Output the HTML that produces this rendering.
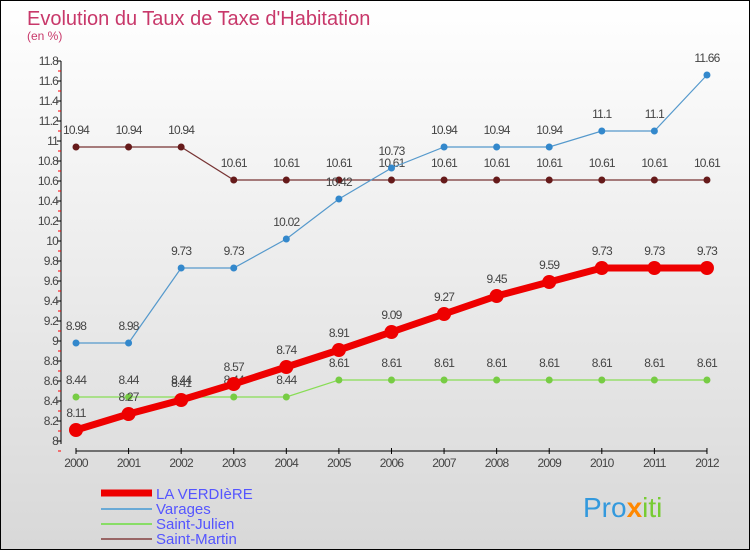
<!DOCTYPE html>
<html><head><meta charset="utf-8"><style>
body{margin:0}
#c{width:748px;height:548px;border:1px solid #000;background:linear-gradient(#fff,#d8d8d8);position:relative;font-family:"Liberation Sans",sans-serif;overflow:hidden}
</style></head><body>
<div id="c">
<svg id="s" width="748" height="548" xmlns="http://www.w3.org/2000/svg">
<text x="26" y="24" font-size="20" fill="#c8386a">Evolution du Taux de Taxe d'Habitation</text>
<text x="26" y="39" font-size="12" fill="#c8386a">(en %)</text>
<g id="g"></g>
<g>
<line x1="100" y1="492" x2="151" y2="492" stroke="#ee0000" stroke-width="7"/>
<text x="155" y="498" font-size="15" fill="#5555ff">LA VERDIèRE</text>
<line x1="100" y1="508" x2="151" y2="508" stroke="#6aaad6" stroke-width="2"/>
<text x="155" y="513" font-size="15" fill="#5555ff">Varages</text>
<line x1="100" y1="523" x2="151" y2="523" stroke="#88dd66" stroke-width="2"/>
<text x="155" y="528" font-size="15" fill="#5555ff">Saint-Julien</text>
<line x1="100" y1="538" x2="151" y2="538" stroke="#996666" stroke-width="2"/>
<text x="155" y="543" font-size="15" fill="#5555ff">Saint-Martin</text>
</g>
<text x="582" y="516" font-size="28" fill="#3399dd">Pro<tspan fill="#ff8800" font-weight="bold">x</tspan><tspan fill="#77cc33">iti</tspan></text>
</svg>
</div>
<script>
const years=[2000,2001,2002,2003,2004,2005,2006,2007,2008,2009,2010,2011,2012];
const yTicks=[8,8.2,8.4,8.6,8.8,9,9.2,9.4,9.6,9.8,10,10.2,10.4,10.6,10.8,11,11.2,11.4,11.6,11.8];
const laVerdiere=[8.11,8.27,8.41,8.57,8.74,8.91,9.09,9.27,9.45,9.59,9.73,9.73,9.73];
const varages=[8.98,8.98,9.73,9.73,10.02,10.42,10.73,10.94,10.94,10.94,11.1,11.1,11.66];
const saintJulien=[8.44,8.44,8.44,8.44,8.44,8.61,8.61,8.61,8.61,8.61,8.61,8.61,8.61];
const saintMartin=[10.94,10.94,10.94,10.61,10.61,10.61,10.61,10.61,10.61,10.61,10.61,10.61,10.61];
const NS='http://www.w3.org/2000/svg';
const g=document.getElementById('g');
const X=i=>75+i*52.58, Y=v=>440-(v-8)*100;
function mk(t,a,p){const e=document.createElementNS(NS,t);for(const k in a)e.setAttribute(k,a[k]);(p||g).appendChild(e);return e;}
let e=mk('line',{x1:60,y1:Y(11.8),x2:60,y2:Y(8)+3,stroke:'#000'});


e=mk('line',{x1:75,y1:450,x2:706,y2:450,stroke:'#000'});


yTicks.forEach(v=>{
 mk('line',{x1:56,x2:60,y1:Y(v),y2:Y(v),stroke:'#000'});
 mk('line',{x1:57,x2:60,y1:Y(v)+10,y2:Y(v)+10,stroke:'#f00'});
 const t=mk('text',{x:57,y:Y(v)+4,'font-size':12,fill:'#444','text-anchor':'end','letter-spacing':'-0.8'});
 t.textContent=String(Math.round(v*10)/10);
 
 
});
years.forEach((y,i)=>{
 mk('line',{x1:X(i),x2:X(i),y1:447,y2:453,stroke:'#000'});
 const t=mk('text',{x:X(i),y:466,'font-size':12,fill:'#444','text-anchor':'middle','letter-spacing':'-0.8'});
 t.textContent=y;
 
 
});
function series(d,name,color,w,r,ptc){
 const pl=mk('polyline',{points:d.map((v,i)=>X(i)+','+Y(v)).join(' '),fill:'none',stroke:color,'stroke-width':w});
 
 
 d.forEach((v,i)=>{
  const c=mk('circle',{cx:X(i),cy:Y(v),r:r,fill:ptc});
  
  
  const t=mk('text',{x:X(i),y:Y(v)-13,'font-size':12,fill:'#444','text-anchor':'middle','letter-spacing':'-0.8'});
  t.textContent=String(v);
  
  
 });
}
series(saintMartin,'saint-martin','#773333',1.2,3.5,'#661a1a');
series(varages,'varages','#5599cc',1.2,3.5,'#3388cc');
series(saintJulien,'saint-julien','#88dd55',1.2,3.5,'#77cc44');
series(laVerdiere,'la-verdiere','#ee0000',7,7,'#ee0000');
</script>
</body></html>
